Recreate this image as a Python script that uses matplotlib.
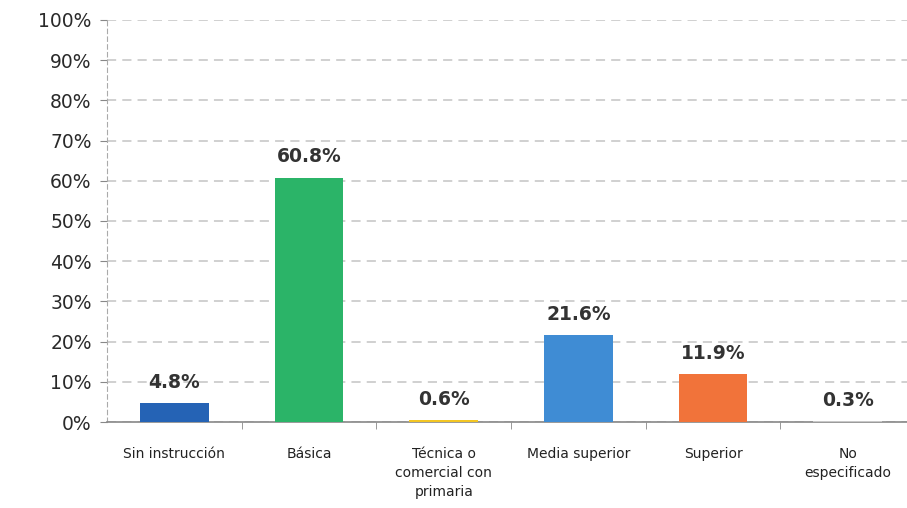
import matplotlib
matplotlib.use("Agg")
import matplotlib.pyplot as plt
from matplotlib.ticker import FixedLocator

categories = ["Sin instrucción", "Básica", "Técnica o\ncomercial con\nprimaria",
              "Media superior", "Superior", "No\nespecificado"]
values = [4.8, 60.8, 0.6, 21.6, 11.9, 0.3]
value_labels = ["4.8%", "60.8%", "0.6%", "21.6%", "11.9%", "0.3%"]
colors = ["#2563b5", "#2bb468", "#f3c623", "#3f8cd4", "#f1733a", "#c8c8c8"]
y_ticks = list(range(0, 101, 10))

fig = plt.figure(figsize=(9.07, 5.08), dpi=100)
ax = fig.add_axes([0.118, 0.169, 0.882, 0.792])

x = list(range(len(categories)))
ax.bar(x, values, width=0.51, color=colors, zorder=3)
for xi, v, lab in zip(x, values, value_labels):
    ax.annotate(lab, (xi, v), xytext=(0, 8), textcoords="offset points",
                ha="center", va="bottom", fontsize=13.5, fontweight="bold",
                color="#333333", zorder=4)

ax.set_ylim(0, 100)
ax.set_xlim(-0.5, 5.44)
ax.set_yticks(y_ticks)
ax.set_yticklabels([f"{t}%" for t in y_ticks], fontsize=13.5, color="#2a2a2a")
ax.yaxis.grid(True, linestyle=(0, (6, 4)), color="#c4c4c4", linewidth=1.1, zorder=0)
ax.set_xticks(x)
ax.set_xticklabels(categories, fontsize=10, color="#222222", linespacing=1.45)
ax.tick_params(axis="x", length=0, pad=18)
ax.xaxis.set_minor_locator(FixedLocator([0.5, 1.5, 2.5, 3.5, 4.5]))
ax.tick_params(axis="x", which="minor", length=5, color="#888888")
ax.tick_params(axis="y", length=5, color="#888888", pad=6)

for s in ["top", "right"]:
    ax.spines[s].set_visible(False)
ax.spines["bottom"].set_color("#888888")
ax.spines["bottom"].set_linewidth(1.2)
ax.spines["left"].set_color("#aaaaaa")
ax.spines["left"].set_linestyle((0, (4, 3)))

fig.savefig("out.png", dpi=100)
